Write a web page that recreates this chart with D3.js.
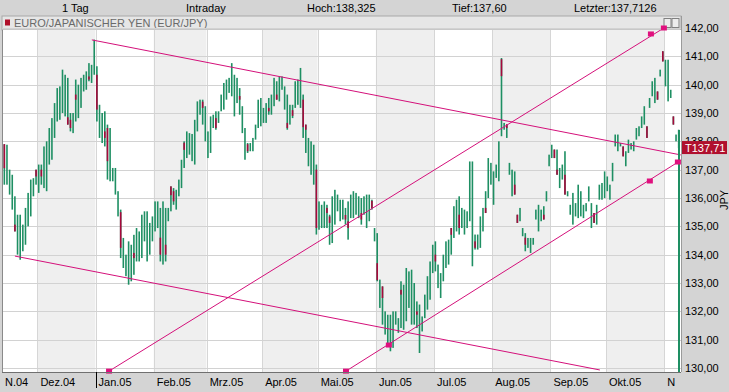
<!DOCTYPE html>
<html><head><meta charset="utf-8">
<script src="https://cdn.jsdelivr.net/npm/d3@7"></script>
<style>body{margin:0;background:#d4d4d4;}svg{display:block;font-family:"Liberation Sans",Arial,sans-serif;}</style>
</head><body>
<svg id="c" width="729" height="392"></svg>
<script>
// ---------- DATA ----------
const monthLabels = ["N.04","Dez.04","Jan.05","Feb.05","Mrz.05","Apr.05","Mai.05","Jun.05","Jul.05","Aug.05","Sep.05","Okt.05","N"];
const monthBars   = [13,22,22,20,21,21,22,22,22,22,21,22,6];
const high = [137.90,137.88,137.00,136.82,136.06,135.41,135.41,135.06,135.65,136.18,136.65,136.70,137.00,
137.18,137.18,137.82,138.00,138.47,138.82,139.35,139.88,139.94,140.53,140.35,140.24,139.00,139.00,140.18,140.00,140.24,140.35,140.47,140.76,140.70,141.59,
140.65,139.29,139.00,139.06,138.59,138.47,137.06,137.06,136.24,135.59,134.59,134.00,134.47,134.35,134.70,134.94,134.82,135.41,135.53,135.53,135.12,135.35,
135.88,135.88,135.65,135.88,135.65,135.65,136.41,136.35,136.29,136.65,137.35,138.00,138.35,138.29,138.26,138.76,139.41,139.47,139.47,139.24,
138.35,138.88,138.94,139.06,139.06,139.65,140.06,140.18,140.24,140.76,140.35,140.24,139.88,139.24,138.47,137.94,137.94,138.12,138.59,139.47,139.53,
139.18,139.35,139.53,139.65,140.24,140.12,140.29,140.29,139.94,139.65,139.29,139.29,140.12,140.18,140.59,139.65,138.59,138.12,138.00,137.88,137.18,
135.88,135.76,135.88,135.76,135.41,136.06,136.29,136.12,135.94,135.94,135.65,135.88,136.12,136.24,136.18,136.06,136.00,136.06,136.12,136.12,135.94,134.94,
134.76,133.12,132.88,132.00,131.88,131.88,132.00,132.00,131.76,133.06,132.94,133.53,133.41,133.47,133.00,132.35,132.24,131.82,132.59,133.24,133.76,134.35,
134.47,133.65,133.35,134.00,134.47,134.53,134.94,135.71,135.94,136.06,135.65,135.59,135.53,137.29,137.29,134.71,134.71,135.35,135.65,136.24,137.41,137.24,
136.94,137.18,138.00,140.94,138.65,138.59,137.24,137.00,136.94,135.41,135.65,134.94,134.76,134.59,134.59,134.59,135.59,135.76,135.59,135.71,136.24,137.53,
137.88,137.71,137.71,137.06,137.18,137.65,136.24,135.76,136.18,135.82,136.47,136.24,135.76,135.82,136.41,135.82,135.47,135.76,136.47,136.53,136.94,
136.76,136.47,137.24,138.24,138.24,137.94,137.82,137.65,138.06,137.94,138.00,138.47,138.53,138.88,139.24,138.53,139.53,140.12,140.24,139.76,140.53,141.18,
140.88,140.88,139.82,138.88,138.24,138.41];
const low = [136.47,136.47,136.12,135.59,134.82,134.00,133.82,134.12,134.35,135.00,135.35,136.06,136.47,
136.18,136.47,136.35,136.24,137.18,137.35,138.12,138.70,138.76,139.00,138.88,138.59,138.35,138.29,138.70,138.82,139.18,139.76,139.82,140.12,140.06,140.35,
138.70,138.12,137.94,137.82,136.65,136.59,136.59,136.12,135.35,133.88,133.53,133.24,132.94,133.06,133.29,133.76,133.76,133.88,134.47,133.76,134.00,134.47,
134.82,134.94,133.76,133.65,133.76,135.18,135.53,135.76,135.59,136.06,136.35,137.06,137.41,137.53,137.30,137.18,138.35,138.94,138.59,138.00,
137.41,137.59,138.47,138.41,138.65,139.06,139.12,139.47,139.71,139.59,138.88,139.35,138.94,138.29,137.35,137.59,137.65,137.65,138.06,138.47,138.53,
138.65,138.65,138.94,138.94,139.24,139.47,139.41,139.82,139.12,138.41,138.59,138.82,139.18,139.29,139.18,138.12,137.59,137.12,136.82,136.47,134.71,
134.88,134.94,134.94,134.94,134.35,134.41,135.06,135.53,135.18,135.24,135.06,134.53,135.29,135.29,135.41,135.29,135.06,135.41,134.94,135.18,135.59,134.47,
133.06,132.12,131.53,131.18,130.88,130.59,130.71,131.53,131.24,131.41,131.35,131.65,132.12,131.53,131.53,131.41,130.53,131.29,131.76,132.06,132.41,133.35,
133.41,132.82,132.47,133.06,133.53,133.65,134.00,134.59,134.82,134.71,134.94,134.71,134.94,135.18,133.59,134.18,134.18,134.24,134.82,135.47,136.00,136.47,
135.76,136.71,136.59,138.18,138.41,138.12,136.82,136.06,136.12,135.12,135.18,134.65,134.12,134.24,134.06,134.35,135.24,134.82,135.18,135.24,135.88,137.12,
137.41,137.41,136.82,136.35,136.65,136.12,136.06,135.41,135.06,135.35,135.29,135.35,135.29,135.53,135.88,134.94,135.12,135.06,135.94,135.94,136.00,
136.24,135.94,136.59,137.82,137.65,137.82,137.47,137.12,137.59,137.71,137.65,138.06,138.18,138.47,138.59,138.12,139.18,139.59,139.35,139.47,140.29,140.82,
139.94,139.41,139.53,138.59,138.00,137.76];
// down days: [bar, open, close]
const downBodies = [[0,137.9,137.05],[4,135.06,134.82],[12,137.0,136.76],[14,137.0,136.76],[24,138.85,138.59],[25,138.76,138.47],[27,139.65,139.47],[32,140.29,140.18],[35,140.35,139.12],[38,138.35,138.12],[39,138.47,137.3],[44,135.5,134.24],[49,134.06,133.88],[59,134.6,134.0],[61,134.35,134.0],[63,136.41,136.1],[64,136.24,135.88],[68,137.95,137.7],[75,139.4,139.18],[80,138.82,138.47],[89,139.6,139.47],[92,137.9,137.65],[100,139.18,139.06],[103,139.65,139.47],[107,138.65,138.47],[109,139.1,138.9],[113,139.47,138.5],[114,138.59,138.41],[118,137.0,134.94],[122,135.65,135.47],[123,135.35,135.12],[129,135.4,135.24],[130,135.18,134.94],[135,135.47,135.24],[139,135.9,135.65],[141,133.7,133.1],[143,132.88,132.47],[150,132.76,132.59],[156,132.0,131.88],[163,134.0,133.76],[169,134.94,134.7],[172,135.41,134.94],[178,134.47,134.24],[182,135.65,135.47],[188,140.9,140.3],[190,138.6,138.47],[193,136.47,136.12],[194,135.41,135.12],[197,134.6,134.35],[204,135.41,135.24],[208,137.71,137.41],[209,137.0,136.82],[212,136.82,136.12],[223,135.47,135.12],[234,137.82,137.47],[243,138.53,138.12],[247,139.76,139.47],[249,141.18,140.82],[253,138.88,138.59]];
// trend lines: [[bar, price],[bar, price]]
const trendLines = [
  [[33.6,141.58],[256.3,137.52]],
  [[4.5,133.95],[225.7,129.93]],
  [[40.1,129.89],[249.9,142.0]],
  [[129.7,129.89],[256.3,137.33]]
];
const trendMarkers = [[40.1,129.89],[245.0,141.79],[249.9,142.0],[129.7,129.89],[145.9,130.81],[244.6,136.6],[255.2,137.27]];
const yTicks = [130,131,132,133,134,135,136,137,138,139,140,141,142];
const header = [["1 Tag",62],["Intraday",186],["Hoch:138,325",307],["Tief:137,60",452],["Letzter:137,7126",574]];
const title = "EURO/JAPANISCHER YEN (EUR/JPY)";
const lastPrice = 137.71;
const lastLineTop = 138.4;

// ---------- DRAW ----------
const svg = d3.select("#c");
const N = high.length;
const L = 2, R = 681, T = 30, B = 372;
const x = d3.scaleLinear().domain([0, N]).range([3, 680]);
const y = d3.scaleLinear().domain([130, 142]).range([368, 28]);
const fmt = v => d3.format(".2f")(v).replace(".", ",");

svg.append("rect").attr("width",729).attr("height",392).attr("fill","#d4d4d4");

// header
svg.selectAll("text.hdr").data(header).join("text")
  .attr("x", d => d[1]).attr("y", 12).attr("font-size", 11).attr("fill", "#000").text(d => d[0]);

// title bar
svg.append("rect").attr("x",L).attr("y",16).attr("width",R-L).attr("height",14).attr("fill","#e6e6e6").attr("stroke","#a8a8a8");
svg.append("rect").attr("x",5).attr("y",19.5).attr("width",5).attr("height",6).attr("fill","#b0102a");
svg.append("text").attr("x",14).attr("y",27).attr("font-size",11).attr("fill","#6a6a6a").text(title);
[664,672].forEach((px,k) => {
  svg.append("rect").attr("x",px).attr("y",18.5).attr("width",7).attr("height",9).attr("fill","#ececec").attr("stroke","#808080");
});

// plot background
svg.append("rect").attr("x",L).attr("y",T).attr("width",R-L).attr("height",B-T).attr("fill","#fff");

// month bands
const starts = [];
let acc = 0;
monthBars.forEach(n => { starts.push(acc); acc += n; });
const g = svg.append("g");
g.selectAll("rect.band").data(starts).join("rect")
  .attr("x", (d,i) => i===0 ? L : x(d)).attr("y", T)
  .attr("width", (d,i) => x(d + monthBars[i]) - (i===0 ? L : x(d)))
  .attr("height", B-T)
  .attr("fill", (d,i) => i % 2 ? "#efefef" : "#ffffff");
g.selectAll("line.vg").data(starts.slice(1)).join("line")
  .attr("x1", d => Math.round(x(d))+0.5).attr("x2", d => Math.round(x(d))+0.5)
  .attr("y1", T).attr("y2", B).attr("stroke", "#d6d6d6");
g.selectAll("line.hg").data(yTicks).join("line")
  .attr("x1", L).attr("x2", R).attr("y1", d => Math.round(y(d))+0.5).attr("y2", d => Math.round(y(d))+0.5)
  .attr("stroke", "#d2d2d2");

// candles
const bw = 1.6;
const bars = d3.range(N);
g.selectAll("rect.bar").data(bars).join("rect")
  .attr("x", i => x(i+0.5) - bw/2).attr("width", bw)
  .attr("y", i => y(high[i])).attr("height", i => Math.max(1, y(low[i]) - y(high[i])))
  .attr("fill", "#1e8f63");
g.selectAll("rect.down").data(downBodies).join("rect")
  .attr("x", d => x(d[0]+0.5) - bw/2).attr("width", bw)
  .attr("y", d => y(d[1])).attr("height", d => Math.max(1, y(d[2]) - y(d[1])))
  .attr("fill", "#a8083c");

// trend lines
const clip = svg.append("clipPath").attr("id","pc").append("rect").attr("x",L).attr("y",T).attr("width",R-L).attr("height",B-T+1);
const tl = svg.append("g").attr("clip-path","url(#pc)");
tl.selectAll("line.tr").data(trendLines).join("line")
  .attr("x1", d => x(d[0][0])).attr("y1", d => y(d[0][1]))
  .attr("x2", d => x(d[1][0])).attr("y2", d => y(d[1][1]))
  .attr("stroke", "#d4107a").attr("stroke-width", 1);
// last price line at right edge
tl.append("line").attr("x1", 679).attr("x2", 679).attr("y1", y(lastLineTop)).attr("y2", B)
  .attr("stroke", "#1e8f63").attr("stroke-width", 2);
svg.selectAll("rect.mk").data(trendMarkers).join("rect")
  .attr("x", d => x(d[0]) - 3).attr("y", d => y(d[1]) - 2.5).attr("width", 6).attr("height", 5)
  .attr("fill", "#e0107e");

// borders
svg.append("line").attr("x1",L+0.5).attr("x2",L+0.5).attr("y1",T).attr("y2",B).attr("stroke","#8a8a8a");
svg.append("line").attr("x1",L).attr("x2",R).attr("y1",B+0.5).attr("y2",B+0.5).attr("stroke","#707070");
svg.append("line").attr("x1",R+0.5).attr("x2",R+0.5).attr("y1",16).attr("y2",B).attr("stroke","#9a9a9a");

// y labels
svg.selectAll("text.yl").data(yTicks).join("text")
  .attr("x", 685).attr("y", d => y(d) + 4).attr("font-size", 11).attr("fill", "#000").text(fmt);

// last price box
const ly = y(lastPrice) - 2;
svg.append("rect").attr("x", 682).attr("y", ly - 6.5).attr("width", 45).attr("height", 13).attr("fill", "#b0102e");
svg.append("text").attr("x", 685).attr("y", ly + 4).attr("font-size", 11).attr("fill", "#fff").text("T" + fmt(lastPrice));

// JPY
svg.append("text").attr("transform","translate(728,200) rotate(-90)").attr("text-anchor","middle")
  .attr("font-size",11).attr("fill","#000").text("JPY");

// x labels
svg.selectAll("text.xl").data(monthLabels).join("text")
  .attr("x", (d,i) => i===0 ? 5 : x(starts[i]) + 3).attr("y", 386).attr("font-size", 11).attr("fill","#000").text(d => d);
const janStart = starts[monthLabels.indexOf("Jan.05")];
svg.append("line").attr("x1", Math.round(x(janStart))+0.5).attr("x2", Math.round(x(janStart))+0.5)
  .attr("y1", B).attr("y2", 388).attr("stroke", "#000");
</script>
</body></html>
